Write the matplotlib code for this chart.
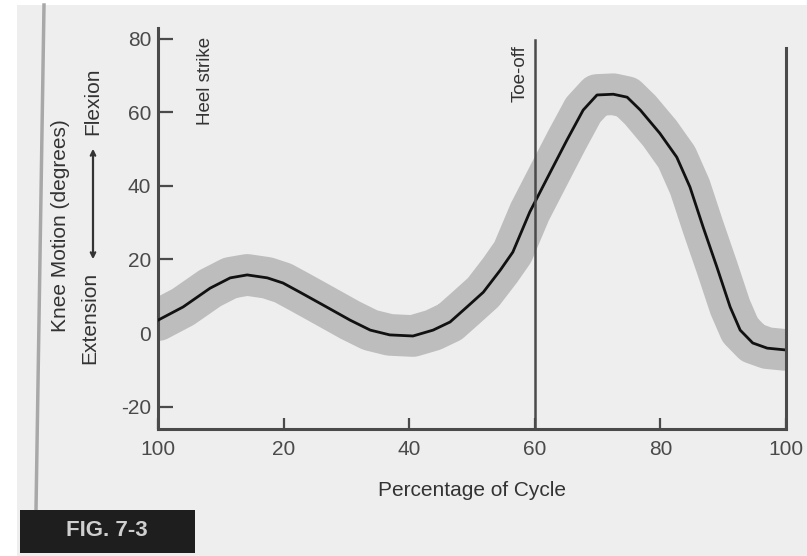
import matplotlib
matplotlib.use('Agg')
import matplotlib.pyplot as plt
from matplotlib.patches import Rectangle, FancyArrowPatch
from matplotlib.lines import Line2D

# ── Data ─────────────────────────────────────────────────────────────────────
pct_cycle = [0, 4.0, 8.3, 11.5, 14.2, 17.4, 19.9, 22.6, 26.3, 30.6, 33.8,
             36.9, 40.6, 43.8, 46.5, 49.2, 51.8, 54.5, 56.5, 59.2, 62.4,
             65.1, 67.7, 69.9, 72.5, 74.7, 76.8, 79.9, 82.6, 84.7, 86.8,
             89.0, 91.1, 92.7, 94.7, 97.0, 100]
knee_deg = [3.5, 7.1, 12.2, 15.0, 15.8, 15.0, 13.6, 11.1, 7.6, 3.5, 0.8,
            -0.5, -0.8, 0.8, 3.0, 7.1, 11.1, 17.1, 22.0, 32.9, 43.5,
            52.4, 60.6, 64.7, 64.9, 64.1, 60.6, 54.3, 47.8, 39.7, 28.8,
            17.9, 7.1, 0.8, -2.7, -4.1, -4.6]

x_ticks = [0, 20, 40, 60, 80, 100]
x_labels = ['100', '20', '40', '60', '80', '100']
y_ticks = [-20, 0, 20, 40, 60, 80]
TOE_OFF = 60

PAGE = '#eeeeee'
INK = '#4a4a4a'
BAND = '#bdbdbd'

plt.rcParams['font.family'] = ['Liberation Sans', 'DejaVu Sans']
plt.rcParams['axes.unicode_minus'] = False

fig = plt.figure(figsize=(8.07, 5.56), dpi=100, facecolor='white')

# scanned page background + page edge
fig.patches.append(Rectangle((17 / 807, 0), 1, 1 - 5 / 556, transform=fig.transFigure,
                             facecolor=PAGE, edgecolor='none', zorder=-2))
fig.lines.append(Line2D([44 / 807, 36 / 807], [1 - 5 / 556, 1 - 510 / 556],
                        transform=fig.transFigure, color='#a8a8a8', lw=2.5, zorder=-1))

ax = fig.add_axes([0.1958, 0.2289, 0.7782, 0.7214])
ax.set_facecolor('none')
ax.set_xlim(0, 100)
ax.set_ylim(-26, 83)

# gray band + mean curve
ax.plot(pct_cycle, knee_deg, color=BAND, lw=30, solid_capstyle='round',
        solid_joinstyle='round', zorder=2)
ax.plot(pct_cycle, knee_deg, color='#111111', lw=2, zorder=3,
        solid_joinstyle='round')

# toe-off line and right border line
ax.axvline(TOE_OFF, ymax=(79.6 + 26) / 109, color=INK, lw=1.8, zorder=4)
ax.axvline(100, ymax=(77.5 + 26) / 109, color=INK, lw=2.2, zorder=4, clip_on=False)

ax.spines[['top', 'right']].set_visible(False)
for s in ('left', 'bottom'):
    ax.spines[s].set_color(INK)
    ax.spines[s].set_linewidth(2.2)

ax.set_yticks(y_ticks)
ax.set_xticks(x_ticks)
ax.set_xticklabels(x_labels)
ax.tick_params(axis='y', direction='in', length=11, width=1.6, colors=INK,
               labelsize=15, pad=5)
ax.tick_params(axis='x', direction='in', length=8, width=1.6, colors=INK,
               labelsize=15, pad=8)

ax.set_xlabel('Percentage of Cycle', fontsize=15, color='#333333', labelpad=16)

ax.text(7.6, 80.4, 'Heel strike', rotation=90, ha='center', va='top',
        fontsize=13.5, color='#333333')
ax.text(57.6, 78.3, 'Toe-off', rotation=90, ha='center', va='top',
        fontsize=13.5, color='#333333')

# y-axis labels (two columns)
fig.text(60 / 807, 1 - 226 / 556, 'Knee Motion (degrees)', rotation=90,
         ha='center', va='center', fontsize=15, color='#333333')
fig.text(93 / 807, 1 - 101 / 556, 'Flexion', rotation=90,
         ha='center', va='center', fontsize=15, color='#333333')
fig.text(90 / 807, 1 - 318 / 556, 'Extension', rotation=90,
         ha='center', va='center', fontsize=15, color='#333333')
fig.patches.append(FancyArrowPatch((93 / 807, 1 - 262 / 556), (93 / 807, 1 - 146 / 556),
                                   transform=fig.transFigure, arrowstyle='<->',
                                   mutation_scale=8, color='#333333', lw=1.6))

# figure caption box
fig.patches.append(Rectangle((20 / 807, 3 / 556), 175 / 807, 43 / 556,
                             transform=fig.transFigure, facecolor='#1e1e1e',
                             edgecolor='none', zorder=1))
fig.text(107 / 807, 1 - 530 / 556, 'FIG. 7-3', ha='center', va='center',
         fontsize=16, fontweight='bold', color='#cfcfcf')

fig.savefig('out.png', dpi=100, facecolor='white')
